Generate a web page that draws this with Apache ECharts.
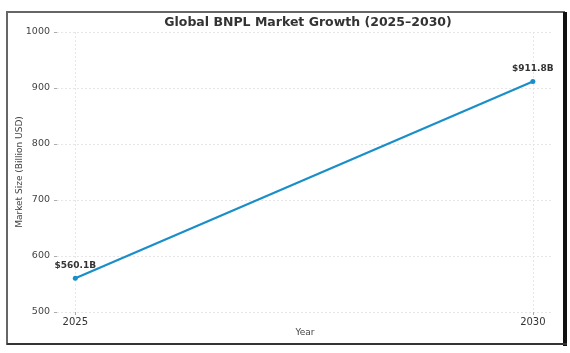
<!DOCTYPE html>
<html>
<head>
<meta charset="utf-8">
<script src="https://cdn.jsdelivr.net/npm/echarts@6/dist/echarts.min.js"></script>
<style>
  html, body { margin: 0; padding: 0; background: #fff; }
  #chart { width: 570px; height: 353px; }
</style>
</head>
<body>
<div id="chart"></div>
<script>
// data
const years = [2025, 2030];
const marketSize = [560.1, 911.8];
const pointLabels = ['$560.1B', '$911.8B'];
const yTicks = [500, 600, 700, 800, 900, 1000];

const font = 'DejaVu Sans';
const chart = echarts.init(document.getElementById('chart'));

chart.setOption({
  backgroundColor: '#fff',
  animation: false,
  title: {
    text: 'Global BNPL Market Growth (2025–2030)',
    left: 303,
    top: 11,
    textAlign: 'center',
    textStyle: { fontFamily: font, fontSize: 12.5, fontWeight: 'bold', color: '#333' }
  },
  // picture frame round the figure
  graphic: [
    { type: 'rect', shape: { x: 7, y: 12, width: 557, height: 332 },
      style: { fill: 'none', stroke: '#666', lineWidth: 2 }, silent: true },
    { type: 'rect', shape: { x: 563, y: 12, width: 4, height: 334 },
      style: { fill: '#111' }, silent: true },
    { type: 'rect', shape: { x: 7, y: 343, width: 560, height: 2 },
      style: { fill: '#333' }, silent: true }
  ],
  grid: { left: 57, right: 17, top: 32, bottom: 41, outerBoundsMode: 'none', containLabel: false },
  xAxis: {
    type: 'value',
    min: 2024.8,
    max: 2030.22,
    name: 'Year',
    nameLocation: 'middle',
    nameGap: 16,
    nameMoveOverlap: false,
    nameTextStyle: { fontFamily: font, fontSize: 9, color: '#444' },
    axisLine: { show: false },
    axisTick: { show: true, customValues: years, length: 3, lineStyle: { color: '#aaa' } },
    axisLabel: { customValues: years, fontFamily: font, fontSize: 10, color: '#333', margin: 5,
      formatter: v => String(v) },
    splitLine: { show: true, lineStyle: { color: '#e6e6e6', type: [2, 2], width: 1 } }
  },
  yAxis: {
    type: 'value',
    min: yTicks[0],
    max: yTicks[yTicks.length - 1],
    interval: 100,
    name: 'Market Size (Billion USD)',
    nameLocation: 'middle',
    nameGap: 33,
    nameMoveOverlap: false,
    nameTextStyle: { fontFamily: font, fontSize: 9, color: '#444' },
    axisLine: { show: false },
    axisTick: { show: true, length: 3, lineStyle: { color: '#aaa' } },
    axisLabel: { fontFamily: font, fontSize: 9.5, color: '#444', margin: 7,
      formatter: v => String(v) },
    splitLine: { show: true, lineStyle: { color: '#e6e6e6', type: [2, 2], width: 1 } }
  },
  series: [{
    type: 'line',
    data: years.map((y, i) => [y, marketSize[i]]),
    lineStyle: { color: '#1a8ec8', width: 2.2 },
    itemStyle: { color: '#1a8ec8' },
    symbol: 'circle',
    symbolSize: 5,
    label: {
      show: true,
      position: 'top',
      distance: 6,
      formatter: p => pointLabels[p.dataIndex],
      fontFamily: font,
      fontSize: 9,
      fontWeight: 'bold',
      color: '#333'
    }
  }]
});
</script>
</body>
</html>
